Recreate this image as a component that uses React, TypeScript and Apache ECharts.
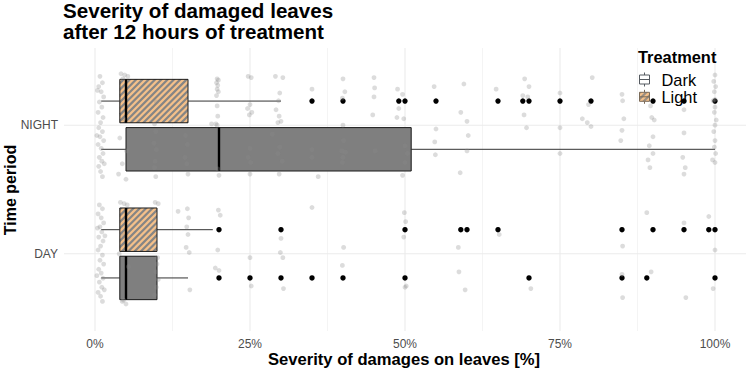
import React, { useEffect, useRef } from "react";
import * as echarts from "echarts";

// ---------- data ----------
const periods = ["DAY", "NIGHT"];
const treatments = ["Dark", "Light"];
const titleText = "Severity of damaged leaves\nafter 12 hours of treatment";
const xTitle = "Severity of damages on leaves [%]";
const yTitle = "Time period";
const legendTitle = "Treatment";
const xTicks = [0, 25, 50, 75, 100];
const xMinor = [12.5, 37.5, 62.5, 87.5];

// box stats per period (DAY, NIGHT): [low whisker, Q1, median, Q3, high whisker]
const darkStats = [
  [1, 4, 5, 10, 15],
  [1, 5, 20, 51, 100],
];
const lightStats = [
  [1, 4, 5, 10, 19],
  [1, 4, 5, 15, 30],
];

// outliers per period
const darkOutDay = [20, 25, 30, 35, 40, 50, 70, 85, 89, 100];
const darkOutNight: number[] = [];
const lightOutDay = [20, 30, 50, 59, 60, 65, 85, 90, 95, 99, 100];
const lightOutNight = [35, 40, 49, 50, 55, 65, 69, 70, 75, 80, 90, 95, 100];

// jittered raw observations: [severity %, vertical jitter]
const dayJitter = [
  [0.7, 0.38], [1.2, 0.35], [0.5, 0.31], [1.0, 0.28], [1.4, 0.24], [0.8, 0.21], [1.1, 0.17],
  [0.6, 0.13], [1.3, 0.1], [0.9, 0.06], [0.5, 0.03], [1.2, -0.01], [0.8, -0.05], [1.4, -0.08],
  [0.6, -0.12], [1.0, -0.15], [1.3, -0.19], [0.7, -0.22], [1.1, -0.26], [0.5, -0.3], [0.9, -0.33],
  [1.2, -0.37], [0.4, 0.2], [1.5, -0.28], [0.3, -0.17], [1.6, 0.14],
  [4.1, 0.4], [4.7, 0.39], [5.2, 0.38], [4.4, -0.37], [5.0, -0.39], [4.6, -0.36], [3.9, 0.0],
  [5.4, -0.1], [4.3, 0.15],
  [9.7, 0.4], [10.2, 0.39], [10.0, -0.08], [9.8, -0.14], [10.2, -0.2], [9.9, -0.26], [10.1, -0.03], [9.6, -0.32],
  [13.4, 0.33],
  [14.9, 0.35], [15.1, 0.28], [14.8, 0.21], [15.0, 0.15], [14.7, 0.05], [15.2, 0.01], [15.3, -0.28],
  [19.9, 0.34], [20.2, 0.3], [19.8, 0.03], [20.0, -0.13], [19.4, -0.11],
  [25.0, -0.03], [25.2, -0.25],
  [30.0, 0.12], [29.9, 0.01], [30.3, -0.03], [30.4, -0.27],
  [35.0, 0.36],
  [40.1, 0.05], [39.9, -0.09],
  [49.9, 0.32], [50.1, 0.25], [49.8, 0.13], [50.2, -0.25], [50.0, -0.26],
  [58.6, 0.05], [58.7, -0.14], [59.7, -0.28],
  [65.2, 0.15],
  [70.3, -0.27],
  [85.1, 0.06], [85.0, -0.16], [85.1, -0.34],
  [89.0, 0.32], [89.7, -0.14],
  [95.0, 0.24], [95.3, -0.34],
  [99.0, 0.29], [100.0, 0.03], [99.7, -0.27],
];
const nightJitter = [
  [0.8, 0.38], [1.2, 0.33], [0.6, 0.3], [1.0, 0.26], [1.4, 0.22], [0.7, 0.18], [1.1, 0.14],
  [0.5, 0.1], [1.3, 0.06], [0.9, 0.02], [0.6, -0.02], [1.2, -0.05], [0.8, -0.09], [1.4, -0.12],
  [0.5, -0.15], [1.0, -0.18], [1.3, -0.22], [0.7, -0.25], [1.1, -0.28], [0.6, -0.32], [0.9, -0.36],
  [1.2, -0.4], [0.4, 0.27], [1.5, -0.3], [0.3, -0.08],
  [4.2, 0.4], [4.8, 0.39], [5.3, 0.38], [4.5, 0.36], [4.0, -0.1], [5.1, -0.2], [4.4, -0.3],
  [5.0, -0.42], [4.6, 0.05], [3.8, -0.38],
  [9.6, 0.01], [9.8, -0.05], [9.5, -0.14], [9.9, -0.19], [9.7, -0.28], [9.6, -0.33], [9.8, -0.4], [9.9, 0.18],
  [14.6, -0.08], [14.9, -0.15], [14.5, -0.25], [14.8, -0.3], [15.0, -0.38],
  [19.7, 0.36], [19.9, 0.35], [19.6, 0.33], [19.8, 0.31], [19.7, 0.28], [19.9, 0.26], [19.6, 0.23],
  [19.7, 0.15], [19.8, 0.07], [19.5, 0.01], [19.7, 0.0], [18.8, 0.01], [19.8, -0.34], [20.0, -0.39],
  [24.7, 0.38], [25.2, 0.37], [25.0, 0.16], [24.6, 0.13], [25.3, 0.1], [24.9, 0.08], [25.0, -0.18],
  [24.7, -0.25], [25.1, -0.29], [25.0, -0.38],
  [29.1, 0.38], [30.3, 0.37], [29.8, 0.25], [29.6, 0.19], [29.2, 0.12], [29.7, 0.07], [30.0, 0.03],
  [29.5, 0.02], [28.6, -0.07], [29.8, -0.17], [29.5, -0.22], [30.2, -0.28], [29.7, -0.38],
  [35.0, 0.28], [35.0, -0.19], [35.0, -0.25], [36.0, -0.4],
  [40.0, 0.36], [40.3, 0.26], [39.9, 0.21], [40.0, 0.0], [40.1, -0.12], [39.8, -0.2], [40.4, -0.21],
  [40.0, -0.25], [39.9, -0.29],
  [45.0, 0.37], [45.1, 0.29], [45.0, 0.22], [44.8, 0.08], [45.2, -0.2],
  [48.8, 0.28], [49.6, 0.24], [49.0, 0.13], [48.7, 0.06], [49.8, 0.05], [50.0, -0.16], [50.4, -0.22],
  [50.0, -0.29], [49.6, -0.39],
  [54.7, 0.3], [55.0, -0.03], [54.8, -0.13], [54.9, -0.23],
  [59.5, 0.32], [59.0, 0.1], [60.0, 0.03], [60.2, -0.08], [60.0, -0.2], [58.9, -0.37],
  [64.7, 0.28],
  [69.3, 0.36], [70.0, 0.3], [69.0, 0.23], [69.8, 0.22], [69.2, 0.08], [69.6, -0.02],
  [75.0, 0.25], [75.0, -0.02], [75.0, -0.22],
  [80.2, 0.37], [79.6, 0.16], [78.6, 0.05], [79.4, 0.02], [80.0, -0.01],
  [85.0, 0.24], [85.1, 0.19], [85.3, 0.05], [85.0, -0.04], [84.8, -0.12],
  [89.6, 0.15], [89.8, 0.06], [90.2, 0.04], [90.0, -0.09], [89.4, -0.16], [90.0, -0.22], [89.2, -0.27], [89.5, -0.33],
  [95.0, 0.12], [95.0, -0.06], [94.8, -0.25], [95.2, -0.33], [95.0, -0.38],
  [100.0, 0.39], [99.8, 0.34], [100.1, 0.3], [99.9, 0.26], [100.0, 0.2], [99.7, 0.19], [100.0, 0.14],
  [99.9, 0.1], [100.2, 0.04], [100.0, 0.0], [99.8, -0.05], [100.0, -0.12], [99.9, -0.17], [100.1, -0.22],
  [99.6, -0.27], [100.0, -0.29],
];

// ---------- styling ----------
const FONT = "'Liberation Sans', Arial, Helvetica, sans-serif";
const DODGE = 0.1875;
const HALF = 0.16875;
const GRID_COL = "#ebebeb";
const DARK_FILL = "#7f7f7f";
const LIGHT_FILL = "#f4c08a";
const STRIPE_COL = "#858585";
const STRIPE_PERIOD = 6.3;
const STRIPE_W = 3.1;

function clip(poly: number[][], f: (p: number[]) => number) {
  const out: number[][] = [];
  for (let i = 0; i < poly.length; i++) {
    const A = poly[i];
    const B = poly[(i + 1) % poly.length];
    const fa = f(A);
    const fb = f(B);
    if (fa >= 0) out.push(A);
    if (fa >= 0 !== fb >= 0) {
      const t = fa / (fa - fb);
      out.push([A[0] + t * (B[0] - A[0]), A[1] + t * (B[1] - A[1])]);
    }
  }
  return out;
}

function stripes(x0: number, y0: number, x1: number, y1: number, color: string) {
  const rect = [
    [x0, y0],
    [x1, y0],
    [x1, y1],
    [x0, y1],
  ];
  const res: any[] = [];
  const cMin = x0 + y0;
  const cMax = x1 + y1;
  for (let c = Math.floor(cMin / STRIPE_PERIOD) * STRIPE_PERIOD; c < cMax; c += STRIPE_PERIOD) {
    let p = clip(rect, (q) => q[0] + q[1] - c);
    p = clip(p, (q) => c + STRIPE_W - (q[0] + q[1]));
    if (p.length >= 3) {
      res.push({ type: "polygon", shape: { points: p }, style: { fill: color }, silent: true });
    }
  }
  return res;
}

export default function App() {
  const ref = useRef<HTMLDivElement>(null);

  useEffect(() => {
    if (!ref.current) return;
    const chart = echarts.init(ref.current, null, { renderer: "svg" });

    const statsByTreatment = [darkStats, lightStats];
    const boxData: number[][] = [];
    periods.forEach((_, i) => {
      treatments.forEach((_, j) => {
        boxData.push([i + 1, j === 0 ? -1 : 1, ...statsByTreatment[j][i], j]);
      });
    });

    const outliers: number[][] = [];
    const outSets = [
      [darkOutDay, darkOutNight],
      [lightOutDay, lightOutNight],
    ];
    outSets.forEach((sets, j) => {
      sets.forEach((vals, i) => {
        vals.forEach((v) => outliers.push([v, i + 1 + (j === 0 ? -1 : 1) * DODGE]));
      });
    });

    const jitter: number[][] = [
      ...dayJitter.map((d) => [d[0], 1 + d[1]]),
      ...nightJitter.map((d) => [d[0], 2 + d[1]]),
    ];

    const legendIcon = (cy: number, fill: string, stroke: string, striped: boolean) => {
      const x0 = 639.5;
      const w = 10;
      const cx = x0 + w / 2;
      const children: any[] = [
        { type: "line", shape: { x1: cx, y1: cy - 7, x2: cx, y2: cy - 4.5 }, style: { stroke, lineWidth: 1 } },
        { type: "line", shape: { x1: cx, y1: cy + 4.5, x2: cx, y2: cy + 7 }, style: { stroke, lineWidth: 1 } },
        { type: "rect", shape: { x: x0, y: cy - 4.5, width: w, height: 9 }, style: { fill, stroke: "none" } },
      ];
      if (striped) {
        children.push(...stripes(x0, cy - 4.5, x0 + w, cy + 4.5, "#9a8f84"));
      }
      children.push(
        { type: "rect", shape: { x: x0, y: cy - 4.5, width: w, height: 9 }, style: { fill: "none", stroke, lineWidth: 1 } },
        { type: "line", shape: { x1: x0, y1: cy, x2: x0 + w, y2: cy }, style: { stroke, lineWidth: 1 } }
      );
      return { type: "group", children };
    };

    const option: any = {
      animation: false,
      backgroundColor: "#ffffff",
      textStyle: { fontFamily: FONT },
      title: {
        text: titleText,
        left: 63,
        top: 0,
        padding: 0,
        textStyle: { fontSize: 20.6, fontWeight: "bold", color: "#000", lineHeight: 21, fontFamily: FONT },
      },
      grid: { left: 64, right: 1, top: 48, bottom: 38, containLabel: false, outerBoundsMode: "none" },
      xAxis: {
        type: "value",
        min: -5,
        max: 105,
        axisLine: { show: false },
        axisTick: { show: false, customValues: xTicks },
        splitLine: { show: false },
        axisLabel: {
          customValues: xTicks,
          formatter: (v: number) => `${v}%`,
          color: "#4d4d4d",
          fontSize: 12,
          lineHeight: 12,
          margin: 7,
          fontFamily: FONT,
        },
      },
      yAxis: {
        type: "value",
        min: 0.4,
        max: 2.6,
        axisLine: { show: false },
        axisTick: { show: false, customValues: [1, 2] },
        splitLine: { show: false },
        axisLabel: {
          customValues: [1, 2],
          formatter: (v: number) => periods[Math.round(v) - 1] ?? "",
          color: "#4d4d4d",
          fontSize: 12,
          margin: 6,
          fontFamily: FONT,
        },
      },
      series: [
        {
          type: "custom",
          name: "gridMinor",
          silent: true,
          z: 0,
          data: xMinor.map((v) => [v, 1.5]),
          renderItem: (_p: any, api: any) => {
            const a = api.coord([api.value(0), 0.4]);
            const b = api.coord([api.value(0), 2.6]);
            return { type: "line", shape: { x1: a[0], y1: a[1], x2: b[0], y2: b[1] }, style: { stroke: GRID_COL, lineWidth: 0.55 } };
          },
        },
        {
          type: "custom",
          name: "gridMajorX",
          silent: true,
          z: 0,
          data: xTicks.map((v) => [v, 1.5]),
          renderItem: (_p: any, api: any) => {
            const a = api.coord([api.value(0), 0.4]);
            const b = api.coord([api.value(0), 2.6]);
            return { type: "line", shape: { x1: a[0], y1: a[1], x2: b[0], y2: b[1] }, style: { stroke: GRID_COL, lineWidth: 1.07 } };
          },
        },
        {
          type: "custom",
          name: "gridMajorY",
          silent: true,
          z: 0,
          data: periods.map((_, i) => [50, i + 1]),
          renderItem: (_p: any, api: any) => {
            const a = api.coord([-5, api.value(1)]);
            const b = api.coord([105, api.value(1)]);
            return { type: "line", shape: { x1: a[0], y1: a[1], x2: b[0], y2: b[1] }, style: { stroke: GRID_COL, lineWidth: 1.07 } };
          },
        },
        {
          type: "custom",
          name: "boxes",
          z: 2,
          silent: true,
          data: boxData,
          encode: { x: [2, 3, 4, 5, 6], y: 0 },
          renderItem: (_p: any, api: any) => {
            const cat = api.value(0);
            const side = api.value(1);
            const yc = cat + side * DODGE;
            const low = api.value(2);
            const q1 = api.value(3);
            const med = api.value(4);
            const q3 = api.value(5);
            const high = api.value(6);
            const tr = api.value(7);
            const pLow = api.coord([low, yc]);
            const pTopLeft = api.coord([q1, yc + HALF]);
            const pBotRight = api.coord([q3, yc - HALF]);
            const pMed = api.coord([med, yc]);
            const pHigh = api.coord([high, yc]);
            const x0 = pTopLeft[0];
            const y0 = pTopLeft[1];
            const x1 = pBotRight[0];
            const y1 = pBotRight[1];
            const children: any[] = [
              { type: "line", shape: { x1: pLow[0], y1: pMed[1], x2: x0, y2: pMed[1] }, style: { stroke: "#333333", lineWidth: 1 } },
              { type: "line", shape: { x1: x1, y1: pMed[1], x2: pHigh[0], y2: pMed[1] }, style: { stroke: "#333333", lineWidth: 1 } },
              {
                type: "rect",
                shape: { x: x0, y: y0, width: x1 - x0, height: y1 - y0 },
                style: { fill: tr === 0 ? DARK_FILL : LIGHT_FILL, stroke: "none" },
              },
            ];
            if (tr === 1) children.push(...stripes(x0, y0, x1, y1, STRIPE_COL));
            children.push(
              {
                type: "rect",
                shape: { x: x0, y: y0, width: x1 - x0, height: y1 - y0 },
                style: { fill: "none", stroke: "#1a1a1a", lineWidth: 1 },
              },
              { type: "line", shape: { x1: pMed[0], y1: y0, x2: pMed[0], y2: y1 }, style: { stroke: "#000", lineWidth: 2.4 } }
            );
            return { type: "group", children };
          },
        },
        {
          type: "scatter",
          name: "outliers",
          z: 3,
          silent: true,
          symbol: "circle",
          symbolSize: 5.4,
          itemStyle: { color: "#000", opacity: 1 },
          data: outliers,
        },
        {
          type: "scatter",
          name: "observations",
          z: 4,
          silent: true,
          clip: false,
          symbol: "circle",
          symbolSize: 4.8,
          itemStyle: { color: "#8c8c8c", opacity: 0.3 },
          data: jitter,
        },
      ],
      graphic: [
        {
          type: "text",
          x: 404,
          y: 359,
          style: {
            text: xTitle,
            font: `bold 16.6px ${FONT}`,
            lineHeight: 16,
            fill: "#000",
            textAlign: "center",
            textVerticalAlign: "middle",
          },
          z: 10,
        },
        {
          type: "text",
          x: 10,
          y: 190,
          rotation: Math.PI / 2,
          style: {
            text: yTitle,
            font: `bold 16px ${FONT}`,
            fill: "#000",
            textAlign: "center",
            textVerticalAlign: "middle",
          },
          z: 10,
        },
        {
          type: "text",
          x: 638,
          y: 57,
          style: { text: legendTitle, font: `bold 16.4px ${FONT}`, fill: "#000", textVerticalAlign: "middle" },
          z: 10,
        },
        { ...legendIcon(79.5, "#ffffff", "#555a60", false), z: 10 },
        { ...legendIcon(96.8, LIGHT_FILL, "#7a6a58", true), z: 10 },
        {
          type: "text",
          x: 661.5,
          y: 79.5,
          style: { text: treatments[0], font: `16.4px ${FONT}`, fill: "#000", textVerticalAlign: "middle" },
          z: 10,
        },
        {
          type: "text",
          x: 661.5,
          y: 97,
          style: { text: treatments[1], font: `16.4px ${FONT}`, fill: "#000", textVerticalAlign: "middle" },
          z: 10,
        },
      ],
    };

    chart.setOption(option);
    return () => chart.dispose();
  }, []);

  return (
    <div
      ref={ref}
      style={{ position: "fixed", left: 0, top: 0, width: 747, height: 369, background: "#fff" }}
    />
  );
}
